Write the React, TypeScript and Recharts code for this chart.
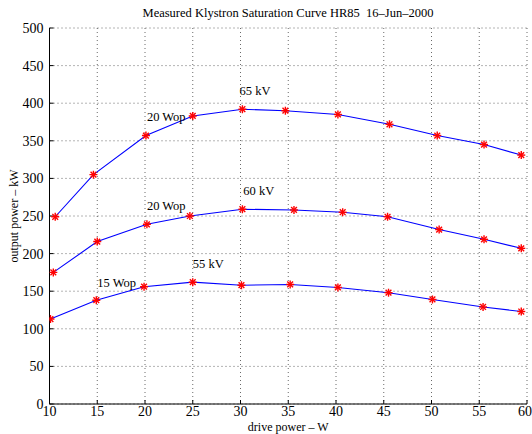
import { LineChart, Line, XAxis, YAxis, CartesianGrid, ReferenceDot } from 'recharts'

// drive power (W) / output power (kW)
const kv65X = [10.6, 14.6, 20.1, 25.0, 30.2, 34.7, 40.2, 45.6, 50.6, 55.5, 59.4]
const kv65Y = [249, 305, 357, 383, 392, 390, 385, 372, 357, 345, 331]

const kv60X = [10.4, 15.0, 20.2, 24.7, 30.2, 35.6, 40.7, 45.4, 50.8, 55.5, 59.4]
const kv60Y = [175, 216, 239, 250, 259, 258, 255, 249, 232, 219, 207]

const kv55X = [10.1, 14.9, 19.9, 25.0, 30.1, 35.2, 40.2, 45.5, 50.1, 55.4, 59.4]
const kv55Y = [113, 138, 156, 162, 158, 159, 155, 148, 139, 129, 123]

const xTicks = [10, 15, 20, 25, 30, 35, 40, 45, 50, 55, 60]
const yTicks = [0, 50, 100, 150, 200, 250, 300, 350, 400, 450, 500]

const notes = [
  { x: 29.9, y: 417, text: '65 kV' },
  { x: 20.2, y: 382, text: '20 Wop' },
  { x: 30.3, y: 284, text: '60 kV' },
  { x: 20.2, y: 264, text: '20 Wop' },
  { x: 25.0, y: 187, text: '55 kV' },
  { x: 15.0, y: 162, text: '15 Wop' },
]

const font = '"Liberation Serif", "DejaVu Serif", serif'

const toRows = (xs: number[], ys: number[]) => xs.map((x, i) => ({ x, y: ys[i] }))

const series = [toRows(kv65X, kv65Y), toRows(kv60X, kv60Y), toRows(kv55X, kv55Y)]

function Star(props: any) {
  const { cx, cy } = props
  if (cx == null || cy == null) return null
  const r = 4
  const d = r * 0.72
  return (
    <g stroke="#ff0000" strokeWidth={1.4}>
      <line x1={cx - r} y1={cy} x2={cx + r} y2={cy} />
      <line x1={cx} y1={cy - r} x2={cx} y2={cy + r} />
      <line x1={cx - d} y1={cy - d} x2={cx + d} y2={cy + d} />
      <line x1={cx - d} y1={cy + d} x2={cx + d} y2={cy - d} />
    </g>
  )
}

export default function App() {
  return (
    <div style={{ position: 'absolute', left: 0, top: 0, background: '#fff' }}>
      <LineChart width={532} height={434} margin={{ top: 28, right: 5, bottom: 0, left: 0 }}>
        <text
          x={288}
          y={17}
          textAnchor="middle"
          fontFamily={font}
          fontSize={12.5}
          fill="#000"
          style={{ whiteSpace: 'pre' }}
        >
          Measured Klystron Saturation Curve HR85  16–Jun–2000
        </text>
        <CartesianGrid stroke="#444" strokeDasharray="1 3" strokeWidth={0.8} />
        <XAxis
          type="number"
          dataKey="x"
          domain={[10, 60]}
          ticks={xTicks}
          allowDataOverflow
          height={30}
          tickSize={-4}
          tickMargin={6}
          tickLine={{ stroke: '#000' }}
          axisLine={{ stroke: '#000' }}
          tick={{ fontFamily: font, fontSize: 14, fill: '#000' }}
          label={{ value: 'drive power – W', position: 'insideBottom', offset: 3, style: { fontFamily: font, fontSize: 12, fill: '#000' } }}
        />
        <YAxis
          type="number"
          dataKey="y"
          domain={[0, 500]}
          ticks={yTicks}
          width={49.5}
          tickSize={-4}
          tickMargin={10}
          tickLine={{ stroke: '#000' }}
          axisLine={{ stroke: '#000' }}
          tick={{ fontFamily: font, fontSize: 14, fill: '#000' }}
          label={{ value: 'output power – kW', angle: -90, position: 'insideLeft', offset: 14, style: { textAnchor: 'middle', fontFamily: font, fontSize: 12, fill: '#000' } }}
        />
        {series.map((rows, i) => (
          <Line
            key={i}
            data={rows}
            dataKey="y"
            type="linear"
            stroke="#0000ff"
            strokeWidth={1.1}
            dot={<Star />}
            activeDot={false}
            isAnimationActive={false}
          />
        ))}
        {notes.map((n, i) => (
          <ReferenceDot
            key={i}
            x={n.x}
            y={n.y}
            r={0}
            shape={(p: any) => (
              <text x={p.cx} y={p.cy} dy="0.35em" fontFamily={font} fontSize={12.5} fill="#000">
                {n.text}
              </text>
            )}
          />
        ))}
      </LineChart>
    </div>
  )
}
